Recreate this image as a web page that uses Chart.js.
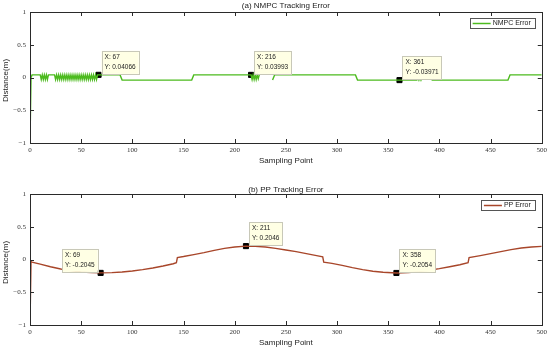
<!DOCTYPE html>
<html>
<head>
<meta charset="utf-8">
<script src="https://cdn.jsdelivr.net/npm/chart.js@4/dist/chart.umd.min.js"></script>
<style>
  html, body { margin: 0; padding: 0; background: #fff; }
  #wrap { position: relative; width: 550px; height: 350px; }
  .pane { position: absolute; left: 0; width: 550px; height: 175px; }
</style>
</head>
<body>
<div id="wrap">
  <div class="pane" style="top:0"><canvas id="nmpcChart"></canvas></div>
  <div class="pane" style="top:175px"><canvas id="ppChart"></canvas></div>
</div>
<script>
// axis ticks
const xTicks = [0, 50, 100, 150, 200, 250, 300, 350, 400, 450, 500];
const yTicks = [-1, -0.5, 0, 0.5, 1];

// NMPC tracking error (null = break in the line)
const nmpcX = [0, 1, 2, 10,
  11, 12, 13, 14, 15, 16, 17, 18,
  24, 25, 26, 27, 28, 29, 30, 31, 32, 33, 34, 35, 36, 37, 38, 39, 40, 41, 42, 43, 44, 45,
  46, 47, 48, 49, 50, 51, 52, 53, 54, 55, 56, 57, 58, 59, 60, 61, 62, 63, 64, 65, 66,
  67, 88, 90, 158, 160, 212,
  216, 217, 218, 219, 220, 221, 222, 223, 224, 225,
  237, 239, 318, 320, 361, 378,
  379, 380, 381, 382, 383, 384,
  391, 393, 467, 469, 500];
const nmpcY = [-1, 0, 0.04, 0.04,
  -0.03, 0.04, -0.03, 0.04, -0.03, 0.04, -0.03, 0.04,
  0.04, -0.03, 0.04, -0.03, 0.04, -0.03, 0.04, -0.03, 0.04, -0.03, 0.04, -0.03, 0.04, -0.03, 0.04, -0.03, 0.04, -0.03, 0.04, -0.03, 0.04, -0.03,
  0.04, -0.03, 0.04, -0.03, 0.04, -0.03, 0.04, -0.03, 0.04, -0.03, 0.04, -0.03, 0.04, -0.03, 0.04, -0.03, 0.04, -0.03, 0.04, -0.03, 0.04,
  0.04066, 0.04, -0.04, -0.04, 0.04, 0.04,
  0.03993, -0.03, 0.04, -0.03, 0.04, -0.03, 0.04, -0.02, 0.04, null,
  -0.04, 0.04, 0.04, -0.04, -0.03971, -0.04,
  0.0, -0.04, 0.0, -0.04, 0.0, null,
  0.0, -0.04, -0.04, 0.04, 0.04];

// PP tracking error
const ppX = [0, 1, 2, 10, 20, 30, 40, 50, 60, 69, 80, 90, 100, 110, 120, 130, 140, 143,
  144, 150, 160, 170, 180, 190, 200, 211, 220, 230, 240, 250, 260, 270, 280, 286,
  287, 295, 305, 315, 325, 335, 345, 358, 370, 380, 390, 400, 410, 420, 428,
  429, 440, 450, 460, 470, 480, 490, 500];
const ppY = [-1, -0.03, -0.04, -0.07, -0.11, -0.145, -0.17, -0.19, -0.2, -0.2045, -0.2, -0.19, -0.175, -0.155, -0.13, -0.1, -0.065, -0.05,
  0.03, 0.045, 0.075, 0.105, 0.14, 0.17, 0.19, 0.2046, 0.2, 0.19, 0.17, 0.145, 0.12, 0.09, 0.06, 0.04,
  -0.04, -0.06, -0.09, -0.125, -0.155, -0.18, -0.195, -0.2054, -0.2, -0.185, -0.165, -0.14, -0.11, -0.08, -0.05,
  0.03, 0.06, 0.09, 0.12, 0.15, 0.175, 0.19, 0.2];

// data tips
const nmpcTipX = [67, 216, 361];
const nmpcTipY = [0.04066, 0.03993, -0.03971];
const ppTipX = [69, 211, 358];
const ppTipY = [-0.2045, 0.2046, -0.2054];

const SANS = '"Liberation Sans", Arial, sans-serif';
const SERIF = '"Liberation Serif", "Times New Roman", serif';

function toPoints(xs, ys) {
    return xs.map((x, i) => ({ x: x, y: ys[i] }));
}

function fmtY(v) {
    return v < 0 ? '\u2212' + String(-v) : String(v);
}

// frame, inward ticks, titles, legend and data tips, MATLAB style
const decorPlugin = {
    id: 'decor',
    afterDraw(chart, args, opts) {
        const ctx = chart.ctx;
        const a = chart.chartArea;
        const xs = chart.scales.x, ys = chart.scales.y;
        ctx.save();

        // box
        ctx.strokeStyle = '#2a2a2a';
        ctx.lineWidth = 1;
        ctx.strokeRect(Math.round(a.left) + 0.5, Math.round(a.top) + 0.5,
            Math.round(a.right - a.left), Math.round(a.bottom - a.top));

        // inward ticks
        ctx.beginPath();
        xTicks.forEach(t => {
            const px = Math.round(xs.getPixelForValue(t)) + 0.5;
            ctx.moveTo(px, a.top); ctx.lineTo(px, a.top + 4);
            ctx.moveTo(px, a.bottom); ctx.lineTo(px, a.bottom - 4);
        });
        yTicks.forEach(t => {
            const py = Math.round(ys.getPixelForValue(t)) + 0.5;
            ctx.moveTo(a.left, py); ctx.lineTo(a.left + 4, py);
            ctx.moveTo(a.right, py); ctx.lineTo(a.right - 4, py);
        });
        ctx.stroke();

        // titles
        ctx.fillStyle = '#222';
        ctx.font = '8px ' + SANS;
        ctx.textAlign = 'center';
        ctx.textBaseline = 'middle';
        ctx.fillText(opts.title, (a.left + a.right) / 2, a.top - opts.titleGap);
        ctx.fillText('Sampling Point', (a.left + a.right) / 2, a.bottom + 18);
        ctx.save();
        ctx.translate(6, (a.top + a.bottom) / 2 + 3);
        ctx.rotate(-Math.PI / 2);
        ctx.fillText('Distance(m)', 0, 0);
        ctx.restore();

        // legend
        ctx.font = '7px ' + SANS;
        const lw = ctx.measureText(opts.legend).width;
        const boxW = 3 + 18 + 2 + lw + 4;
        const bx = a.right - 7 - boxW, by = a.top + 6;
        ctx.fillStyle = '#fff';
        ctx.fillRect(bx, by, boxW, 10);
        ctx.strokeStyle = '#555';
        ctx.strokeRect(Math.round(bx) + 0.5, by + 0.5, Math.round(boxW), 10);
        ctx.strokeStyle = opts.color;
        ctx.lineWidth = 1.5;
        ctx.beginPath();
        ctx.moveTo(bx + 3, by + 5.5); ctx.lineTo(bx + 21, by + 5.5);
        ctx.stroke();
        ctx.fillStyle = '#222';
        ctx.textAlign = 'left';
        ctx.fillText(opts.legend, bx + 23, by + 5.5);

        // data tips
        ctx.font = '6.5px ' + SANS;
        opts.tipX.forEach((tx, i) => {
            const ty = opts.tipY[i];
            const px = xs.getPixelForValue(tx), py = ys.getPixelForValue(ty);
            const l1 = 'X: ' + tx, l2 = 'Y: ' + ty;
            const w = Math.max(ctx.measureText(l1).width, ctx.measureText(l2).width) + 6;
            const h = 23;
            const side = opts.tipSide[i];
            const tbx = side === 'left' ? px - 3 - w : px + 3;
            const tby = py - 1 - h;
            ctx.fillStyle = '#ffffe4';
            ctx.fillRect(tbx, tby, w, h);
            ctx.strokeStyle = '#c8c8b8';
            ctx.lineWidth = 1;
            ctx.strokeRect(Math.round(tbx) + 0.5, Math.round(tby) + 0.5, Math.round(w), h);
            ctx.fillStyle = '#222';
            ctx.textAlign = 'left';
            ctx.fillText(l1, tbx + 3, tby + 6.5);
            ctx.fillText(l2, tbx + 3, tby + 16.5);
        });

        ctx.restore();
    }
};

function makeChart(id, xs, ys, tipX, tipY, color, cfg) {
    const ctx = document.getElementById(id).getContext('2d');
    return new Chart(ctx, {
        type: 'line',
        data: {
            datasets: [{
                data: toPoints(xs, ys),
                borderColor: color,
                borderWidth: 1.4,
                pointRadius: 0,
                tension: 0,
                spanGaps: false
            }, {
                type: 'scatter',
                data: toPoints(tipX, tipY),
                pointStyle: 'rect',
                pointRadius: 3.6,
                backgroundColor: '#000',
                borderColor: '#000'
            }]
        },
        options: {
            responsive: false,
            animation: false,
            events: [],
            layout: { padding: { left: 0, right: 7, top: cfg.top, bottom: 0 } },
            scales: {
                x: {
                    type: 'linear',
                    min: 0,
                    max: 500,
                    afterBuildTicks: s => { s.ticks = xTicks.map(v => ({ value: v })); },
                    afterFit: s => { s.height = cfg.xHeight; },
                    grid: { display: false, drawTicks: false, tickLength: 0 },
                    border: { display: false },
                    ticks: {
                        padding: 3,
                        maxRotation: 0,
                        color: '#333',
                        font: { family: SERIF, size: 7 }
                    }
                },
                y: {
                    min: -1,
                    max: 1,
                    afterBuildTicks: s => { s.ticks = yTicks.map(v => ({ value: v })); },
                    afterFit: s => { s.width = 30; },
                    grid: { display: false, drawTicks: false, tickLength: 0 },
                    border: { display: false },
                    ticks: {
                        padding: 4,
                        color: '#333',
                        font: { family: SERIF, size: 7 },
                        callback: v => fmtY(v)
                    }
                }
            },
            plugins: {
                legend: { display: false },
                tooltip: { enabled: false },
                decor: {
                    title: cfg.title,
                    titleGap: cfg.titleGap,
                    legend: cfg.legend,
                    color: color,
                    tipX: tipX,
                    tipY: tipY,
                    tipSide: cfg.tipSide
                }
            }
        },
        plugins: [decorPlugin]
    });
}

document.addEventListener('DOMContentLoaded', () => {
    for (const id of ['nmpcChart', 'ppChart']) {
        const c = document.getElementById(id);
        c.width = 550; c.height = 175;
    }
    makeChart('nmpcChart', nmpcX, nmpcY, nmpcTipX, nmpcTipY, '#4cbb1e', {
        top: 12, xHeight: 32, title: '(a) NMPC Tracking Error', titleGap: 6,
        legend: 'NMPC Error', tipSide: ['right', 'right', 'right']
    });
    makeChart('ppChart', ppX, ppY, ppTipX, ppTipY, '#a8462a', {
        top: 19, xHeight: 25, title: '(b) PP Tracking Error', titleGap: 4,
        legend: 'PP Error', tipSide: ['left', 'right', 'right']
    });
});
</script>
</body>
</html>
